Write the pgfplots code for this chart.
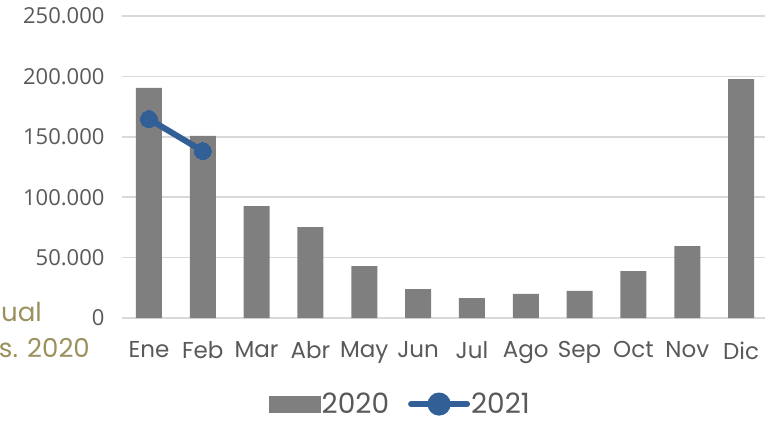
\documentclass[border=0pt]{standalone}
\usepackage{pgfplots}
\pgfplotsset{compat=1.18}
\usepackage{fontspec}
\setmainfont{Poppins}
\newfontfamily\numfont{Open Sans}
\definecolor{barg}{RGB}{127,127,127}
\definecolor{lblue}{RGB}{50,95,150}
\definecolor{gridc}{RGB}{217,217,217}
\definecolor{tickc}{RGB}{89,89,89}
\definecolor{olive}{RGB}{155,145,95}
\begin{document}
\begin{tikzpicture}
\useasboundingbox (0,0) rectangle (765pt,423pt);
\node[anchor=base west, text=olive, font=\fontsize{26}{30}\selectfont, inner sep=0pt] at (1pt,101pt) {ual};
\node[anchor=base east, text=olive, font=\fontsize{26}{30}\selectfont, inner sep=0pt] at (90pt,66pt) {s. 2020};
\begin{axis}[
  at={(122pt,105pt)}, anchor=south west,
  scale only axis, width=646pt, height=302pt,
  xmin=-0.5, xmax=11.5, ymin=0, ymax=250000,
  xtick={0,...,11},
  xticklabels={Ene,Feb,Mar,Abr,May,Jun,Jul,Ago,Sep,Oct,Nov,Dic},
  ytick={0,50000,100000,150000,200000,250000},
  scaled y ticks=false,
  yticklabel style={/pgf/number format/fixed, /pgf/number format/precision=0, /pgf/number format/1000 sep={.}, /pgf/number format/assume math mode=true,
    font=\numfont\fontsize{22}{26}\selectfont, text=tickc, xshift=-14pt},
  xticklabel style={font=\fontsize{23}{27}\selectfont, text=tickc, yshift=-20pt},
  ymajorgrids, grid style={gridc, line width=1.5pt},
  axis x line*=bottom, axis y line*=left,
  x axis line style={gridc, line width=1.5pt, -},
  y axis line style={draw=none},
  major tick length=0pt,
  legend columns=2,
  legend style={at={(0.43,-0.285)}, anchor=center, draw=none, fill=none, inner sep=0pt,
    font=\fontsize{28}{30}\selectfont, text=tickc,
    nodes={inner sep=1pt},
    /tikz/every even column/.append style={column sep=18pt}},
  legend cell align=left,
]
\addplot[ybar, bar width=26pt, fill=barg, draw=none,
  legend image code/.code={\fill[barg] (0pt,-8.5pt) rectangle (52pt,8.5pt);}]
  coordinates {(0,190400) (1,150700) (2,92700) (3,75300) (4,43000) (5,24000) (6,16500) (7,19900) (8,22400) (9,38900) (10,59600) (11,197800)};
\addlegendentry{2020}
\addplot[lblue, line width=6pt, mark=*, mark size=8.5pt, mark options={fill=lblue, draw=lblue, line width=0pt},
  legend image code/.code={\draw[lblue, line width=6pt, line cap=round] (0pt,0pt) -- (56pt,0pt); \fill[lblue] (28pt,0pt) circle (8.5pt);}]
  coordinates {(0,164700) (1,138200)};
\addlegendentry{2021}
\end{axis}
\end{tikzpicture}
\end{document}
